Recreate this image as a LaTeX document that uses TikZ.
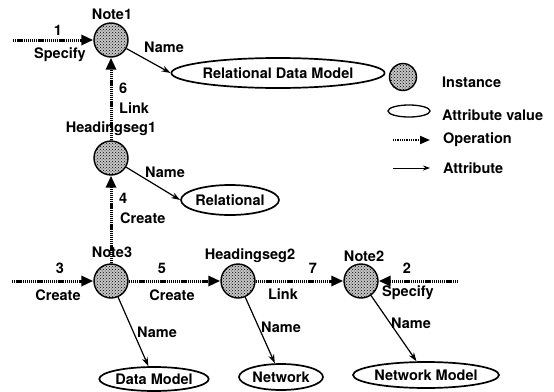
\documentclass[tikz,border=0pt]{standalone}
\usepackage{fontspec}
\setmainfont{TeX Gyre Heros}
\usetikzlibrary{arrows.meta,shapes.geometric,patterns}
\begin{document}
\begin{tikzpicture}[x=1pt,y=-1pt,
  font=\fontsize{14.5}{16}\selectfont\bfseries,
  inst/.style={circle,draw,line width=1.4pt,minimum size=34pt,inner sep=0pt,
    fill=gray!45,postaction={pattern=crosshatch dots,pattern color=black}},
  attval/.style={ellipse,draw,line width=1.7pt,inner sep=0pt},
  oper/.style={line width=3pt,dash pattern=on 1.3pt off 0.8pt,
    -{Triangle[length=12pt,width=10pt]}},
  attr/.style={line width=1.2pt,-{Stealth[length=9pt,width=6pt]}},
  lbl/.style={inner sep=0pt}]
\useasboundingbox (0,0) rectangle (554,391);

% instances
\node[inst] (n1) at (111,40) {};
\node[inst] (h1) at (111,158) {};
\node[inst] (n3) at (111,281) {};
\node[inst] (h2) at (238,281) {};
\node[inst] (n2) at (361,281) {};

\node[lbl] (n1t) at (112,14) {Note1};
\node[lbl] (h1t) at (111,129) {Headingseg1};
\node[lbl] (n3t) at (112,252) {Note3};
\node[lbl] (h2t) at (250,256) {Headingseg2};
\node[lbl] (n2t) at (364,256) {Note2};

% attribute values
\node[attval,minimum width=188pt,minimum height=30pt] (rdm) at (278,73) {Relational Data Model};
\node[attval,minimum width=94pt,minimum height=30pt] (rel) at (230,200) {Relational};
\node[attval,minimum width=102pt,minimum height=24pt] (dm) at (154,379) {Data Model};
\node[attval,minimum width=84pt,minimum height=26pt] (net) at (281,377) {Network};
\node[attval,minimum width=131pt,minimum height=26pt] (nm) at (426,375) {Network Model};

% operations
\coordinate (s1) at (13,40);
\coordinate (s3) at (12,281);
\coordinate (s2) at (458,281);
\draw[oper] (s1) -- (n1);
\draw[oper] (h1) -- (n1);
\draw[oper] (n3) -- (h1);
\draw[oper] (s3) -- (n3);
\draw[oper] (n3) -- (h2);
\draw[oper] (h2) -- (n2);
\draw[oper] (s2) -- (n2);

\node[lbl] (o1a) at (58,30) {1};
\node[lbl] (o1b) at (60,55) {Specify};
\node[lbl,anchor=west] (o6a) at (119,88) {6};
\node[lbl,anchor=west] (o6b) at (119,108) {Link};
\node[lbl,anchor=west] (o4a) at (119,198) {4};
\node[lbl,anchor=west] (o4b) at (120,218) {Create};
\node[lbl] (o3a) at (60,268) {3};
\node[lbl] (o3b) at (58,295) {Create};
\node[lbl] (o5a) at (162,268) {5};
\node[lbl] (o5b) at (172,295) {Create};
\node[lbl] (o7a) at (313,268) {7};
\node[lbl] (o7b) at (283,294) {Link};
\node[lbl] (o2a) at (407,268) {2};
\node[lbl] (o2b) at (408,293) {Specify};

% attributes
\draw[attr] (n1) -- (rdm.west);
\draw[attr] (h1) -- (rel.west);
\draw[attr] (n3) -- (dm);
\draw[attr] (h2) -- (net);
\draw[attr] (n2) -- (nm);

\node[lbl] (a1) at (164,47) {Name};
\node[lbl] (a2) at (165,172) {Name};
\node[lbl] (a3) at (157,332) {Name};
\node[lbl] (a4) at (281,327) {Name};
\node[lbl] (a5) at (411,323) {Name};

% legend
\node[inst,minimum size=27pt] (lgi) at (403,77) {};
\node[lbl,anchor=west] (lgit) at (442,82) {Instance};
\node[attval,line width=1.3pt,minimum width=42pt,minimum height=12pt] (lga) at (409,111) {};
\node[lbl,anchor=west] (lgat) at (442,115) {Attribute value};
\coordinate (lgo1) at (393,140);
\coordinate (lgo2) at (430,140);
\draw[line width=1.8pt,dash pattern=on 1pt off 0.8pt,
  -{Triangle[length=10pt,width=8pt]}] (lgo1) -- (lgo2);
\node[lbl,anchor=west] (lgot) at (443,140) {Operation};
\coordinate (lgr1) at (393,168);
\coordinate (lgr2) at (430,168);
\draw[line width=0.8pt,-{Stealth[length=7pt,width=5pt]}] (lgr1) -- (lgr2);
\node[lbl,anchor=west] (lgrt) at (443,168) {Attribute};
\end{tikzpicture}
\end{document}
